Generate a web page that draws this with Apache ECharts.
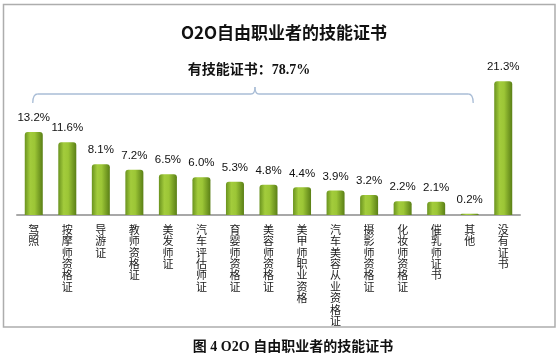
<!DOCTYPE html>
<html>
<head>
<meta charset="utf-8">
<script src="https://cdn.jsdelivr.net/npm/echarts@6/dist/echarts.min.js"></script>
<style>
html,body{margin:0;padding:0;background:#fff;}
#c{width:560px;height:362px;}
</style>
</head>
<body>
<div id="c"></div>
<script>
const categories = ['驾照','按摩师资格证','导游证','教师资格证','美发师证','汽车评估师证','育婴师资格证','美容师资格证','美甲师职业资格','汽车美容从业资格证','摄影师资格证','化妆师资格证','催乳师证书','其他','没有证书'];
const values = [13.2, 11.6, 8.1, 7.2, 6.5, 6.0, 5.3, 4.8, 4.4, 3.9, 3.2, 2.2, 2.1, 0.2, 21.3];
const titleText = 'O2O自由职业者的技能证书';
const bracketText = '有技能证书：78.7%';
const captionText = '图 4 O2O 自由职业者的技能证书';
const bracketFrom = 0, bracketTo = 13;

const chart = echarts.init(document.getElementById('c'), null, {renderer:'canvas'});
const barColor = new echarts.graphic.LinearGradient(0,0,1,0,[
  {offset:0, color:'#6a931f'},
  {offset:0.3, color:'#a3cc3c'},
  {offset:0.55, color:'#9cc636'},
  {offset:1, color:'#5a7f16'}
]);
chart.setOption({
  animation:false,
  backgroundColor:'#fff',
  title:{
    text:titleText, left:279, top:19, textAlign:'center',
    textStyle:{fontFamily:'Noto Sans CJK SC', fontWeight:'bold', fontSize:17, color:'#111'}
  },
  grid:{left:17, right:40, top:58, bottom:147},
  xAxis:{
    type:'category', data:categories,
    axisTick:{show:false},
    axisLine:{lineStyle:{color:'#a8a8a8', width:2}},
    axisLabel:{
      interval:0, margin:9, fontSize:11, lineHeight:11.4, color:'#1a1a1a',
      fontFamily:'Noto Sans CJK SC',
      formatter:v=>v.split('').join('\n')
    }
  },
  yAxis:{type:'value', min:0, max:25, show:false, splitLine:{show:false}},
  series:[{
    type:'bar', data:values, barWidth:18,
    itemStyle:{color:barColor, borderRadius:[3,3,0,0]},
    label:{show:true, position:'top', distance:8, fontSize:11.5, color:'#111',
      fontFamily:'Liberation Sans', formatter:p=>p.value.toFixed(1)+'%'}
  }]
});

const p0 = chart.convertToPixel({xAxisIndex:0, yAxisIndex:0}, [bracketFrom, 0]);
const p1 = chart.convertToPixel({xAxisIndex:0, yAxisIndex:0}, [bracketTo, 0]);
const x0 = p0[0]-1, x1 = p1[0]+3.5;
const xm = (x0+x1)/2 + 2;
const yl = 94;
const bs = {fill:null, stroke:'#a9bdd6', lineWidth:1.3};
chart.setOption({
  graphic:[
    {type:'rect', shape:{x:3.5, y:4.5, width:551.5, height:322.5}, style:{fill:null, stroke:'#adadad', lineWidth:1.5}, silent:true, z:-1},
    {type:'bezierCurve', shape:{x1:x0, y1:yl+9, cpx1:x0, cpy1:yl, x2:x0+5, y2:yl}, style:bs, silent:true},
    {type:'line', shape:{x1:x0+5, y1:yl, x2:xm-4, y2:yl}, style:bs, silent:true},
    {type:'bezierCurve', shape:{x1:xm-4, y1:yl, cpx1:xm, cpy1:yl, x2:xm, y2:yl-7}, style:bs, silent:true},
    {type:'bezierCurve', shape:{x1:xm, y1:yl-7, cpx1:xm, cpy1:yl, x2:xm+4, y2:yl}, style:bs, silent:true},
    {type:'line', shape:{x1:xm+4, y1:yl, x2:x1-5, y2:yl}, style:bs, silent:true},
    {type:'bezierCurve', shape:{x1:x1-5, y1:yl, cpx1:x1, cpy1:yl, x2:x1, y2:yl+9}, style:bs, silent:true},
    {type:'text', x:xm-6, y:70, style:{text:bracketText, align:'center', verticalAlign:'middle',
      fontFamily:'Liberation Serif, Noto Sans CJK SC', fontWeight:'bold', fontSize:14, fill:'#111'}},
    {type:'text', x:293, y:347, style:{text:captionText, align:'center', verticalAlign:'middle',
      fontFamily:'Liberation Serif, Noto Sans CJK SC', fontWeight:'bold', fontSize:14, fill:'#111'}}
  ]
});
</script>
</body>
</html>
